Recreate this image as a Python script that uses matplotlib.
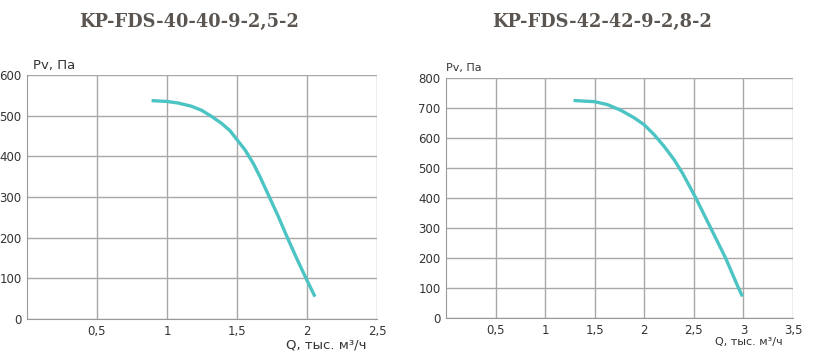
import matplotlib
matplotlib.use('Agg')
import matplotlib.pyplot as plt

# Левый вентилятор
titulo_1 = "KP-FDS-40-40-9-2,5-2"
q_1 = [0.89, 1.0, 1.081, 1.176, 1.248, 1.319, 1.39, 1.45, 1.5, 1.557, 1.617,
       1.664, 1.731, 1.795, 1.86, 1.921, 1.993, 2.057]
pv_1 = [537, 535, 531, 523, 513, 498, 481, 463, 441, 416, 382,
        350, 300, 252, 200, 153, 100, 55]
xticks_1 = [0.5, 1, 1.5, 2, 2.5]
xlabels_1 = ["0,5", "1", "1,5", "2", "2,5"]
yticks_1 = [0, 100, 200, 300, 400, 500, 600]

# Правый вентилятор
titulo_2 = "KP-FDS-42-42-9-2,8-2"
q_2 = [1.286, 1.5, 1.631, 1.766, 1.899, 2.0, 2.1, 2.2, 2.3, 2.385,
       2.52, 2.67, 2.82, 2.95, 2.99]
pv_2 = [725, 721, 711, 692, 667, 644, 611, 572, 528, 483,
        400, 300, 200, 100, 72]
xticks_2 = [0.5, 1, 1.5, 2, 2.5, 3, 3.5]
xlabels_2 = ["0,5", "1", "1,5", "2", "2,5", "3", "3,5"]
yticks_2 = [0, 100, 200, 300, 400, 500, 600, 700, 800]

color_linea = "#4cc4c4"
color_grid = "#a8a8a8"
color_texto = "#333333"

fig = plt.figure(figsize=(8.35, 3.58), dpi=100)


def dibujar(ax, q, pv, xticks, xlabels, yticks, xmax, fs):
    ax.plot(q, pv, color=color_linea, lw=2.4, solid_capstyle='butt')
    ax.set_xlim(0, xmax)
    ax.set_ylim(0, yticks[-1])
    ax.set_xticks(xticks)
    ax.set_xticklabels(xlabels)
    ax.set_yticks(yticks)
    ax.grid(True, color=color_grid, lw=1)
    ax.set_axisbelow(True)
    for s in ax.spines.values():
        s.set_visible(False)
    ax.spines['left'].set_visible(True)
    ax.spines['bottom'].set_visible(True)
    ax.spines['left'].set_color("#999999")
    ax.spines['bottom'].set_color("#999999")
    ax.tick_params(length=0, labelsize=fs, colors=color_texto)
    ax.tick_params(axis='x', pad=4)
    ax.tick_params(axis='y', pad=4)


ax1 = fig.add_axes([27 / 835, 39 / 358, 350 / 835, 244 / 358])
dibujar(ax1, q_1, pv_1, xticks_1, xlabels_1, yticks_1, 2.5, 8.5)
ax1.text(0.017, 1.012, "Pv, Па", transform=ax1.transAxes, fontsize=9.5,
         color=color_texto, ha='left', va='bottom')
ax1.text(0.969, -0.078, "Q, тыс. м³/ч", transform=ax1.transAxes, fontsize=9.5,
         color=color_texto, ha='right', va='top')

ax2 = fig.add_axes([446 / 835, 40 / 358, 347 / 835, 240 / 358])
dibujar(ax2, q_2, pv_2, xticks_2, xlabels_2, yticks_2, 3.5, 8.5)
ax2.text(0.0, 1.02, "Pv, Па", transform=ax2.transAxes, fontsize=8,
         color=color_texto, ha='left', va='bottom')
ax2.text(0.971, -0.08, "Q, тыс. м³/ч", transform=ax2.transAxes, fontsize=8,
         color=color_texto, ha='right', va='top')

fig.text(189 / 835, 1 - 22 / 358, titulo_1, fontsize=12.8, fontweight='bold',
         family='DejaVu Serif', color="#5a5550", ha='center', va='center')
fig.text(602 / 835, 1 - 22 / 358, titulo_2, fontsize=12.8, fontweight='bold',
         family='DejaVu Serif', color="#5a5550", ha='center', va='center')

fig.savefig("out.png", dpi=100)
